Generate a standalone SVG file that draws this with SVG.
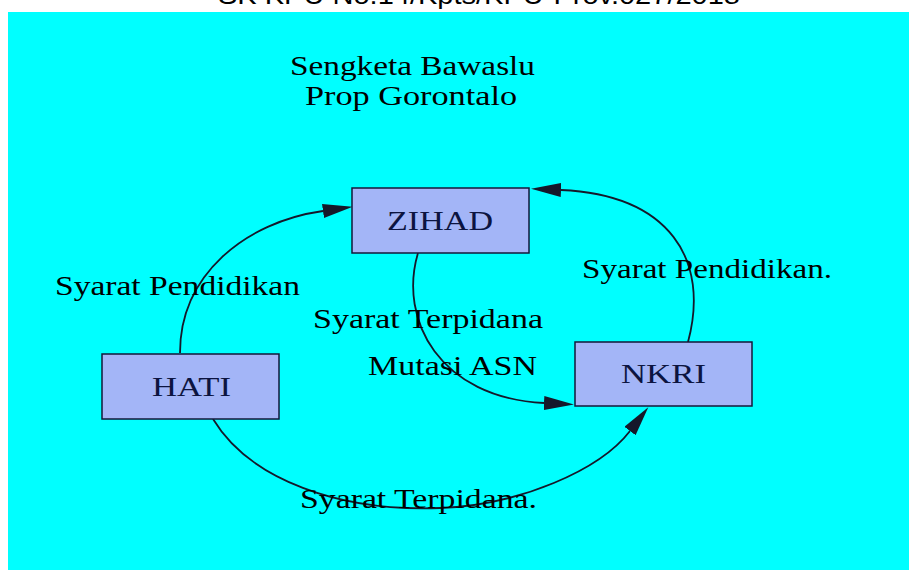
<svg xmlns="http://www.w3.org/2000/svg" width="909" height="570" viewBox="0 0 909 570">
<defs>
<style>
.node rect{fill:#a3b5f7;stroke:#14183a;stroke-width:1.5}
.node text{font-family:"Liberation Serif","Times New Roman",serif;font-size:27px;fill:#0c1440}
.lbl{font-family:"Liberation Serif","Times New Roman",serif;font-size:27px;fill:#000}
.edge{fill:none;stroke:#15182a;stroke-width:1.8}
</style>
<marker id="ah" markerUnits="userSpaceOnUse" markerWidth="32" markerHeight="15" refX="0" refY="7" orient="auto">
<path d="M0,0 L30,7 L0,14 z" fill="#15182a"/>
</marker>
</defs>
<rect x="0" y="0" width="909" height="570" fill="#ffffff"/>
<rect x="8" y="12" width="901" height="558" fill="#00ffff"/>
<text x="218" y="4" textLength="522" lengthAdjust="spacingAndGlyphs" style="font-family:'Liberation Sans',Arial,sans-serif;font-size:26px;fill:#000">SK KPU No.14/Kpts/KPU-Prov.027/2018</text>
<g id="title">
<text class="lbl" x="290" y="75" textLength="245" lengthAdjust="spacingAndGlyphs">Sengketa Bawaslu</text>
<text class="lbl" x="305" y="105" textLength="212" lengthAdjust="spacingAndGlyphs">Prop Gorontalo</text>
</g>
<g id="edges">
<path class="edge" d="M180,353 C180,275 245,222 323,211" marker-end="url(#ah)"/>
<path class="edge" d="M688,342 C710,260 670,195 561,190" marker-end="url(#ah)"/>
<path class="edge" d="M418,253 C398,320 440,398 544,403" marker-end="url(#ah)"/>
<path class="edge" d="M213,419 C250,480 340,512 440,508 C520,505 600,470 630,431" marker-end="url(#ah)"/>
<text class="lbl" x="55" y="295" textLength="245" lengthAdjust="spacingAndGlyphs">Syarat Pendidikan</text>
<text class="lbl" x="582" y="278" textLength="250" lengthAdjust="spacingAndGlyphs">Syarat Pendidikan.</text>
<text class="lbl" x="313" y="328" textLength="230" lengthAdjust="spacingAndGlyphs">Syarat Terpidana</text>
<text class="lbl" x="368" y="375" textLength="169" lengthAdjust="spacingAndGlyphs">Mutasi ASN</text>
<text class="lbl" x="300" y="508" textLength="237" lengthAdjust="spacingAndGlyphs">Syarat Terpidana.</text>
</g>
<g id="ZIHAD" class="node">
<rect x="352" y="188" width="177" height="65"/>
<text x="387" y="230" textLength="106" lengthAdjust="spacingAndGlyphs">ZIHAD</text>
</g>
<g id="HATI" class="node">
<rect x="102" y="354" width="177" height="65"/>
<text x="152" y="396" textLength="79" lengthAdjust="spacingAndGlyphs">HATI</text>
</g>
<g id="NKRI" class="node">
<rect x="575" y="342" width="177" height="64"/>
<text x="621" y="383" textLength="85" lengthAdjust="spacingAndGlyphs">NKRI</text>
</g>
</svg>
